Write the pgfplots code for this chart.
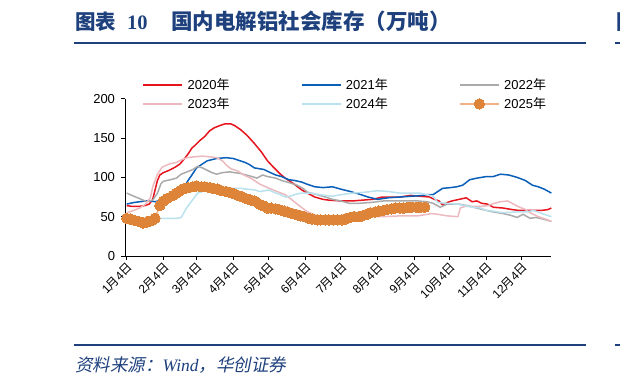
\documentclass[border=0pt]{standalone}
\usepackage{fontspec}
\usepackage{pgfplots}
\pgfplotsset{compat=1.18}
\setmainfont{Liberation Sans}
\newfontfamily\cjk{Noto Sans CJK SC}
\newfontfamily\cjkit[FakeSlant=0.2]{Noto Sans CJK SC}
\newfontfamily\tnr{Liberation Serif}
\newcommand\yue{{\cjk 月}}
\newcommand\ri{{\cjk 日}}
\newcommand\nian{{\cjk 年}}
\definecolor{navy}{RGB}{30,65,125}
\definecolor{c20}{RGB}{230,20,30}
\definecolor{c21}{RGB}{10,95,185}
\definecolor{c22}{RGB}{170,170,170}
\definecolor{c23}{RGB}{236,185,190}
\definecolor{c24}{RGB}{185,225,238}
\definecolor{c25}{RGB}{222,132,56}
\definecolor{c25l}{RGB}{244,177,131}
\begin{document}
\begin{tikzpicture}
\path (0,0) rectangle (620bp,-386bp);
% title
\node[anchor=base west,inner sep=0pt,text=navy,font=\fontsize{20.5bp}{22bp}\selectfont] at (75bp,-29bp) {\cjk\bfseries 图表};
\node[anchor=base west,inner sep=0pt,text=navy,font=\fontsize{20.5bp}{22bp}\selectfont] at (127bp,-29bp) {\tnr\bfseries 10};
\node[anchor=base west,inner sep=0pt,text=navy,font=\fontsize{21.5bp}{22bp}\selectfont] at (171bp,-29bp) {\cjk\bfseries 国内电解铝社会库存（万吨）};
\draw[navy,line width=2.3bp] (73.5bp,-42.7bp) -- (586bp,-42.7bp);
\draw[navy,line width=2.3bp] (73.5bp,-345bp) -- (586bp,-345bp);
\node[anchor=base west,inner sep=0pt,text=navy,font=\fontsize{17.5bp}{19bp}\selectfont] at (75bp,-371.5bp) {\cjkit 资料来源：{\tnr\itshape Wind}，华创证券};
\begin{scope}
\clip (0,0) rectangle (620bp,-386bp);
\node[anchor=base west,inner sep=0pt,text=navy,font=\fontsize{20.5bp}{22bp}\selectfont] at (616bp,-29bp) {\cjk\bfseries 图};
\draw[navy,line width=2.3bp] (615bp,-42.7bp) -- (625bp,-42.7bp);
\draw[navy,line width=2.3bp] (615bp,-345bp) -- (625bp,-345bp);
\end{scope}
\begin{axis}[
  at={(125bp,-256bp)}, anchor=south west,
  scale only axis, width=426bp, height=157.3bp,
  xmin=2.56, xmax=362.7, ymin=0, ymax=200,
  axis x line=bottom, axis y line=left,
  axis line style={-, black, line width=0.8bp},
  tick align=outside, major tick length=4bp,
  tick style={black, line width=0.8bp},
  xtick={4,35,63,94,124,155,185,216,247,277,308,338},
  xticklabels={1\yue4\ri,2\yue4\ri,3\yue4\ri,4\yue4\ri,5\yue4\ri,6\yue4\ri,7\yue4\ri,8\yue4\ri,9\yue4\ri,10\yue4\ri,11\yue4\ri,12\yue4\ri},
  ytick={0,50,100,150,200},
  /pgf/number format/assume math mode=true,
  xticklabel style={rotate=45, anchor=north east, inner sep=1bp, font=\fontsize{12bp}{14bp}\selectfont},
  yticklabel style={font=\fontsize{13bp}{15bp}\selectfont, xshift=-2.5bp},
  clip=false,
  legend columns=3,
  legend style={draw=none, fill=none, at={(0.04155,1.126)}, anchor=north west,
    inner sep=0pt, outer sep=0pt, nodes={inner sep=0pt},
    font=\fontsize{13bp}{15bp}\selectfont, row sep=6.3bp,
    /tikz/every odd column/.append style={column sep=4.5bp},
    /tikz/every even column/.append style={column sep=13.2bp}},
  legend image code/.code={\draw[mark repeat=2,mark phase=2,#1] plot coordinates {(0bp,0bp)(19.5bp,0bp)(39bp,0bp)};},
  every axis plot/.append style={line width=1.5bp},
]
\addplot[c20, no marks] coordinates {
(4,64)(9,63)(14,63)(19,64)(23,66)(26,72)(28,84)(30,96)(32,103)(35,106)(40,109)(45,113)(49,117)(53,124)(56,130)(59,137)(62,141)(66,147)(70,152)(74,159)(78,163)(83,166)(87,168)(92,168)(95,166)(100,161)(106,153)(112,143)(118,132)(123,121)(128,113)(134,104)(138,99)(145,92)(152,84)(158,79)(163,75)(170,72)(175,71)(185,70)(195,70)(203,71)(212,72)(220,75)(235,75)(244,77)(252,76)(260,75)(264,72)(268,70)(271,65)(275,68)(279,70)(285,72)(291,74)(296,69)(300,70)(304,67)(309,66)(314,62)(322,61)(330,59)(335,58)(345,58)(355,58)(360,59)(363,61)};
\addlegendentry{\makebox[100bp][l]{2020\nian}}
\addplot[c21, no marks] coordinates {
(4,66)(10,68)(15,69)(20,70)(24,70)(28,69)(33,71)(40,72)(46,74)(51,78)(55,94)(60,105)(63,112)(68,117)(72,121)(80,124)(88,125)(94,124)(98,122)(104,119)(108,116)(112,112)(116,111)(120,110)(124,107)(130,103)(135,101)(141,97)(146,96)(152,94)(157,91)(163,88)(170,87)(178,88)(185,85)(193,82)(200,79)(208,75)(216,72)(225,74)(235,75)(245,76)(254,77)(258,78)(263,78)(267,82)(271,86)(278,87)(283,88)(288,90)(294,97)(300,99)(308,101)(314,101)(320,104)(327,103)(334,100)(341,96)(347,90)(352,88)(357,85)(363,80)};
\addlegendentry{\makebox[100bp][l]{2021\nian}}
\addplot[c22, no marks] coordinates {
(4,80)(10,76)(15,73)(21,69)(26,71)(30,80)(33,92)(35,95)(41,97)(46,99)(50,104)(55,107)(60,110)(64,114)(68,112)(72,109)(76,106)(80,104)(85,106)(91,107)(95,106)(100,105)(105,103)(110,101)(114,99)(119,103)(123,101)(130,99)(135,96)(142,93)(148,90)(153,86)(157,81)(165,78)(172,75)(178,72)(185,70)(192,67)(200,67)(210,68)(221,70)(235,70)(250,70)(258,69)(263,67)(269,62)(275,66)(285,66)(292,64)(300,61)(308,58)(314,56)(322,54)(328,52)(334,49)(339,53)(345,48)(350,49)(356,47)(363,44)};
\addlegendentry{\makebox[100bp][l]{2022\nian}}
\addplot[c23, no marks] coordinates {
(4,55)(10,58)(15,61)(20,66)(24,74)(26,88)(30,104)(34,113)(40,117)(46,119)(50,122)(55,125)(60,126)(68,127)(75,126)(80,125)(85,121)(88,116)(92,111)(98,108)(103,103)(110,98)(117,91)(123,87)(131,82)(138,78)(144,71)(149,65)(156,57)(160,54)(165,51)(172,50)(185,50)(200,50)(210,50)(220,50)(235,51)(250,51)(262,54)(267,53)(275,51)(284,50)(286,61)(290,63)(297,63)(303,63)(309,64)(315,67)(320,69)(326,70)(331,66)(336,62)(340,60)(345,55)(352,50)(358,47)(363,44)};
\addlegendentry{\makebox[100bp][l]{2023\nian}}
\addplot[c24, no marks] coordinates {
(4,45)(10,46)(15,45)(20,46)(25,48)(30,48)(35,48)(40,48)(47,48)(50,49)(55,62)(60,72)(64,80)(70,83)(75,84)(82,86)(88,86)(95,86)(100,86)(106,85)(112,84)(117,82)(124,84)(130,80)(134,78)(138,75)(142,76)(148,79)(152,80)(160,80)(167,78)(172,77)(178,76)(185,78)(195,80)(205,81)(216,83)(225,82)(235,80)(245,80)(252,80)(258,78)(263,76)(267,68)(275,67)(283,66)(290,64)(297,62)(303,61)(308,58)(314,57)(322,55)(334,56)(342,56)(348,58)(355,54)(363,50)};
\addlegendentry{\makebox[100bp][l]{2024\nian}}
\addplot[c25l, mark=*, mark size=5.2bp, mark options={fill=c25, draw=c25, line width=0pt}] coordinates {
(4,48)(7,47)(11,45)(14,44)(18,42)(21,43)(25,45)(28,48)
(32,64)(35,70)(38,73)
(43,77)(46,80)(49,83)(53,86)(56,87)(60,88)(63,89)(67,88)(70,88)(74,87)(77,86)(81,85)(84,83)(88,82)(91,81)(95,79)(98,77)(102,75)(105,73)(109,71)(112,70)(116,66)(119,64)(123,61)(126,61)(130,60)(133,59)(137,57)(140,56)(144,54)(147,53)(151,51)(154,50)(158,48)(161,47)(165,46)(168,46)(172,46)(175,46)(179,46)(182,46)(186,46)(189,47)(193,49)(196,50)(200,50)(203,51)(207,53)(210,55)(214,56)(217,57)(221,58)(224,59)(228,60)(231,61)(235,61)(238,61)(242,62)(245,62)(249,62)(252,62)(256,62)};
\addlegendentry{\makebox[100bp][l]{2025\nian}}
\end{axis}
\end{tikzpicture}
\end{document}
